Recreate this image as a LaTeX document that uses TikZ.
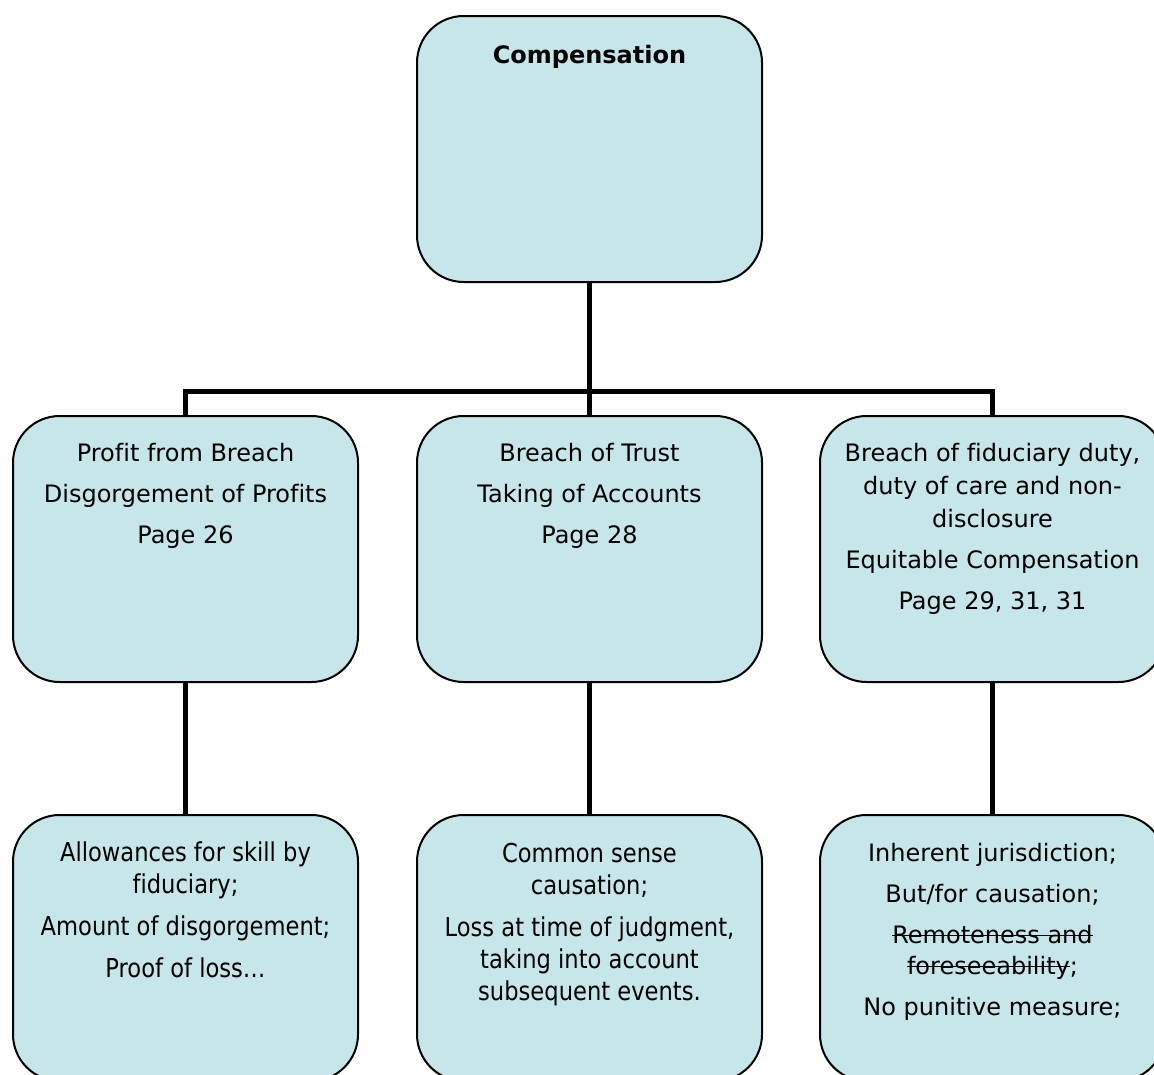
\documentclass[tikz,border=0pt]{standalone}
\usepackage{fontspec}
\setmainfont[Ligatures=NoCommon]{DejaVu Sans}
\newfontfamily\condfont[FakeStretch=0.87,Ligatures=NoCommon]{DejaVu Sans}
\newcommand\mystrike[1]{\setbox0\hbox{#1}\rlap{\rule[0.28em]{\wd0}{0.07em}}\box0}
\definecolor{boxfill}{RGB}{198,230,233}
\begin{document}
\begin{tikzpicture}[x=0.75pt,y=-0.75pt,
  box/.style={draw=black, line width=1.5pt, fill=boxfill, rounded corners=35pt,
    minimum width=258.75pt, minimum height=199.5pt, inner sep=0pt},
  conn/.style={draw=black, line width=3.75pt},
  txt/.style={align=center, inner sep=0pt, anchor=north,
    font=\fontsize{18pt}{24.75pt}\selectfont},
  ctxt/.style={align=center, inner sep=0pt, anchor=north,
    font=\condfont\fontsize{19.5pt}{24pt}\selectfont}]
\useasboundingbox (0,0) rectangle (1154,1075);
\coordinate (bus) at (589.5,391);
\node[box] (top) at (589.5,149) {};
\node[box] (ml) at (185.5,549) {};
\node[box] (mm) at (589.5,549) {};
\node[box] (mr) at (992.5,549) {};
\node[box] (bl) at (185.5,948) {};
\node[box] (bm) at (589.5,948) {};
\node[box] (br) at (992.5,948) {};
\draw[conn] (top.south) -- (mm.north);
\draw[conn] (ml.north) |- (bus) -| (mr.north);
\draw[conn] (ml.south) -- (bl.north);
\draw[conn] (mm.south) -- (bm.north);
\draw[conn] (mr.south) -- (br.north);
\node[txt] (ttop) at (589.5,45) {\bfseries Compensation};
\node[txt] (tml) at (185.5,442.5) {Profit from Breach\\[6pt] Disgorgement of Profits\\[6pt] Page 26};
\node[txt] (tmm) at (589.5,442.5) {Breach of Trust\\[6pt] Taking of Accounts\\[6pt] Page 28};
\node[txt] (tmr) at (992.5,442.5) {Breach of fiduciary duty,\\ duty of care and non-\\ disclosure\\[6pt] Equitable Compensation\\[6pt] Page 29, 31, 31};
\node[ctxt] (tbl) at (185.5,841.5) {Allowances for skill by\\ fiduciary;\\[7.5pt] Amount of disgorgement;\\[7.5pt] Proof of loss…};
\node[ctxt] (tbm) at (589.5,842.5) {Common sense\\ causation;\\[7.5pt] Loss at time of judgment,\\ taking into account\\ subsequent events.};
\node[txt] (tbr) at (992.5,842.5) {Inherent jurisdiction;\\[6pt] But/for causation;\\[6pt] \mystrike{Remoteness and}\\[-1.5pt] \mystrike{foreseeability};\\[6pt] No punitive measure;};
\end{tikzpicture}
\end{document}
